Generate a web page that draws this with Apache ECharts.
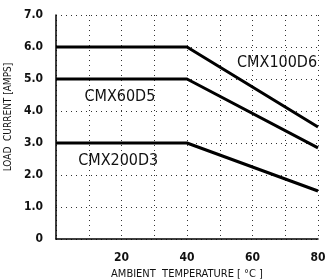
<!DOCTYPE html>
<html>
<head>
<meta charset="utf-8">
<script src="https://cdn.jsdelivr.net/npm/echarts@6/dist/echarts.min.js"></script>
<style>
  html, body { margin: 0; padding: 0; background: #fff; }
  #chart { width: 325px; height: 280px; }
</style>
</head>
<body>
<div id="chart"></div>
<script>
// ambient temperature breakpoints (°C)
var temps = [0, 40, 80];
var seriesNames = ['CMX100D6', 'CMX60D5', 'CMX200D3'];
var cmx100d6 = [6.0, 6.0, 3.5];
var cmx60d5 = [5.0, 5.0, 2.85];
var cmx200d3 = [3.0, 3.0, 1.5];
var yTicks = ['0', '1.0', '2.0', '3.0', '4.0', '5.0', '6.0', '7.0'];
var xTicks = [20, 40, 60, 80];

var narrow = '"Liberation Sans Narrow", "DejaVu Sans Condensed", sans-serif';

function pairs(vals) {
  return temps.map(function (t, i) { return [t, vals[i]]; });
}

// where each curve's name sits (data coords)
var labelAt = {
  CMX100D6: [67.5, 5.5],
  CMX60D5: [19.5, 4.45],
  CMX200D3: [19, 2.45]
};

function makeSeries(name, vals) {
  return {
    name: name,
    type: 'line',
    data: pairs(vals),
    symbol: 'none',
    lineStyle: { color: '#000', width: 3 },
    markPoint: {
      symbol: 'circle',
      symbolSize: 0,
      data: [{ coord: labelAt[name], value: name }],
      label: {
        show: true,
        position: 'inside',
        formatter: name,
        color: '#111',
        fontFamily: narrow,
        fontSize: 16
      }
    }
  };
}

var chart = echarts.init(document.getElementById('chart'));
chart.setOption({
  animation: false,
  grid: { left: 56, top: 15, right: 7, bottom: 41, containLabel: false, outerBoundsMode: 'none' },
  xAxis: {
    type: 'value',
    min: 0, max: 80, interval: 10,
    name: 'AMBIENT  TEMPERATURE [ °C ]',
    nameLocation: 'middle',
    nameGap: 28,
    nameTextStyle: { color: '#111', fontFamily: narrow, fontSize: 11 },
    axisLine: { lineStyle: { color: '#000', width: 1.5 } },
    axisTick: { show: false },
    axisLabel: {
      margin: 13,
      color: '#111',
      fontFamily: narrow,
      fontSize: 12,
      fontWeight: 'bold',
      formatter: function (v) { return xTicks.indexOf(v) >= 0 ? String(v) : ''; }
    },
    splitLine: { show: true, lineStyle: { color: '#333', type: [1, 4], width: 1 } }
  },
  yAxis: {
    type: 'value',
    min: 0, max: 7, interval: 1,
    name: 'LOAD  CURRENT [AMPS]',
    nameLocation: 'middle',
    nameGap: 37,
    nameTextStyle: { color: '#111', fontFamily: narrow, fontSize: 10, padding: [0, 0, 0, 20] },
    axisLine: { show: true, lineStyle: { color: '#000', width: 1.5 } },
    axisTick: { show: false },
    axisLabel: {
      margin: 13,
      color: '#111',
      fontFamily: narrow,
      fontSize: 12,
      fontWeight: 'bold',
      formatter: function (v) { return yTicks[Math.round(v)]; }
    },
    splitLine: { show: true, lineStyle: { color: '#333', type: [1, 4], width: 1 } }
  },
  series: [
    makeSeries(seriesNames[0], cmx100d6),
    makeSeries(seriesNames[1], cmx60d5),
    makeSeries(seriesNames[2], cmx200d3)
  ]
});
</script>
</body>
</html>
